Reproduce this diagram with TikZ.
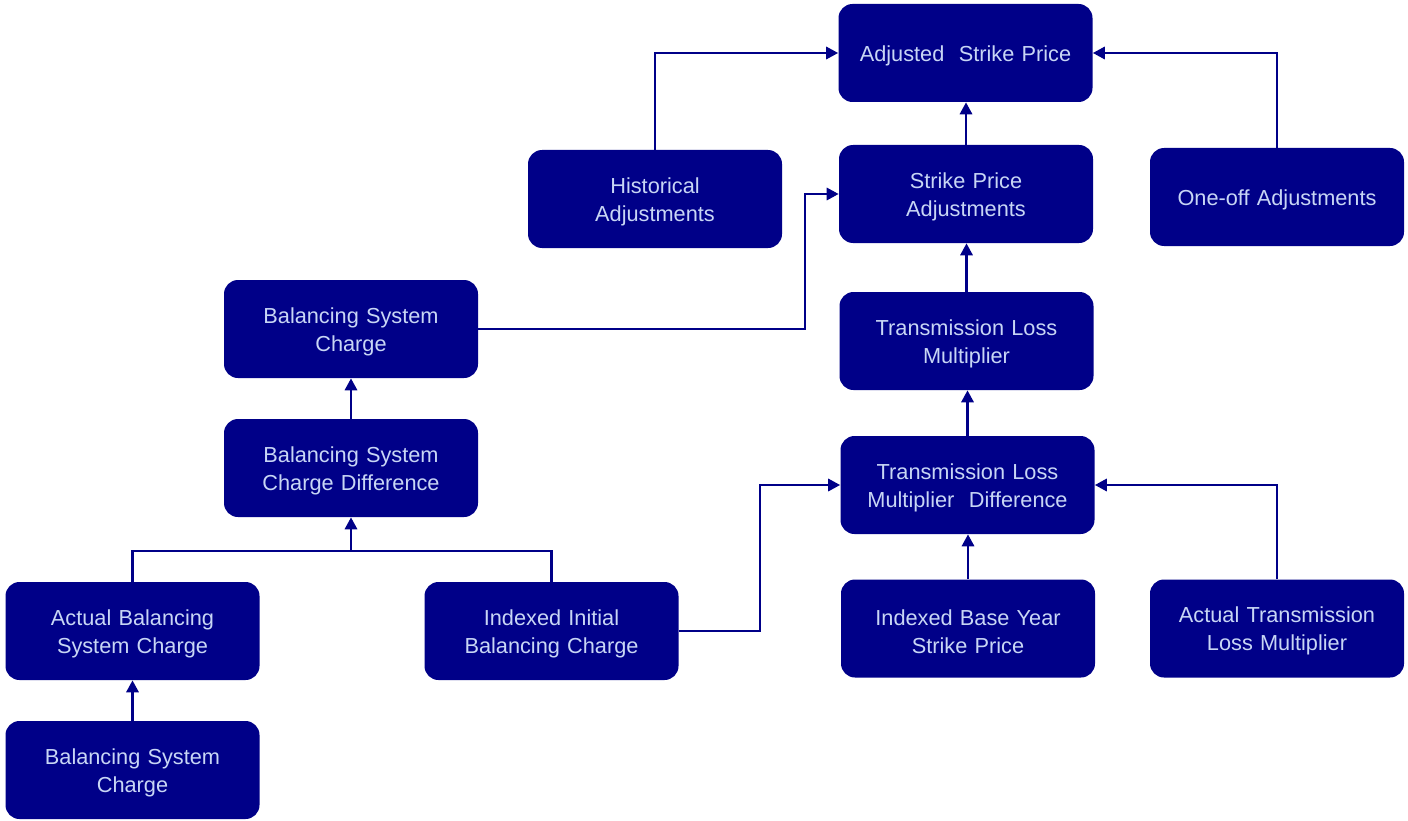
\documentclass[tikz,border=0pt]{standalone}
\usepackage{fontspec}
\setmainfont{Liberation Sans}
\usetikzlibrary{arrows.meta}
\definecolor{boxfill}{RGB}{0,0,136}
\definecolor{boxtext}{RGB}{200,214,245}
\begin{document}
\begin{tikzpicture}[x=0.75pt,y=-0.75pt,
  box/.style={draw=none,fill=boxfill,rounded corners=10.5pt,minimum width=190.5pt,minimum height=73.5pt,
    inner sep=0pt,text width=185pt,align=center,text=boxtext,font=\fontsize{16.3}{21}\selectfont,
    execute at begin node={\rule{0pt}{16pt}}},
  conn/.style={draw=boxfill,line width=2.2pt},
  arr/.style={conn,-{Triangle[length=9pt,width=9pt]}}]
\useasboundingbox (0,0) rectangle (1408,820);
\node[box] (adj) at (965.5,53) {Adjusted~ Strike Price};
\node[box] (hist) at (655,199) {Historical\\Adjustments};
\node[box] (spa) at (966,194) {Strike Price\\Adjustments};
\node[box] (oneoff) at (1277,197) {One-off Adjustments};
\node[box] (bsc) at (351,329) {Balancing System\\Charge};
\node[box] (tlm) at (966.5,341) {Transmission Loss\\Multiplier};
\node[box] (bscd) at (351,468) {Balancing System\\Charge Difference};
\node[box] (tlmd) at (967.5,485) {Transmission Loss\\Multiplier~ Difference};
\node[box] (absc) at (132.5,631) {Actual Balancing\\System Charge};
\node[box] (iibc) at (551.5,631) {Indexed Initial\\Balancing Charge};
\node[box] (ibys) at (968,628.5) {Indexed Base Year\\Strike Price};
\node[box] (atlm) at (1277,628.5) {Actual Transmission\\Loss Multiplier};
\node[box] (bscl) at (132.5,770) {Balancing System\\Charge};
\coordinate (k1) at (805,330);
\coordinate (k2) at (351,551);
\coordinate (k3) at (760,632);
\draw[arr] (hist.north) |- (adj.west);
\draw[arr] (oneoff.north) |- (adj.east);
\draw[arr] (spa.north) -- (spa.north |- adj.south);
\draw[arr] (bsc.east) -- (bsc.east -| k1) |- (spa.west);
\draw[arr] (tlm.north) -- (tlm.north |- spa.south);
\draw[arr] (tlmd.north) -- (tlmd.north |- tlm.south);
\draw[arr] (bscd.north) -- (bscd.north |- bsc.south);
\draw[conn] (absc.north) |- (iibc.north |- k2) -- (iibc.north);
\draw[arr] (k2) -- (bscd.south);
\draw[arr] (iibc.east) -- (iibc.east -| k3) |- (tlmd.west);
\draw[arr] (ibys.north) -- (ibys.north |- tlmd.south);
\draw[arr] (atlm.north) |- (tlmd.east);
\draw[arr] (bscl.north) -- (absc.south);
\end{tikzpicture}
\end{document}
